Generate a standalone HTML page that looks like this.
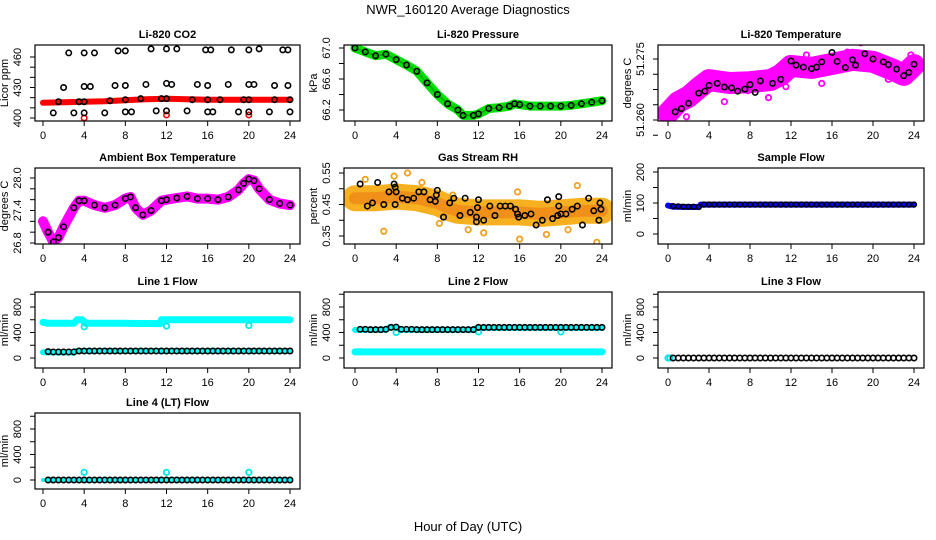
<!DOCTYPE html>
<html><head><meta charset="utf-8">
<style>
html,body{margin:0;padding:0;background:#fff;}
svg{display:block;font-family:"Liberation Sans",sans-serif;}
</style></head>
<body>
<svg id="fig" width="936" height="540" viewBox="0 0 936 540">
<text x="468" y="14" text-anchor="middle" font-size="13">NWR_160120  Average Diagnostics</text>
<text x="468" y="531" text-anchor="middle" font-size="13">Hour of Day (UTC)</text>
</svg>
<script>
// ---------- DATA ----------
const xTickLabels = [0,4,8,12,16,20,24];
const HALF = [0.5,1,1.5,2,2.5,3,3.5,4,4.5,5,5.5,6,6.5,7,7.5,8,8.5,9,9.5,10,10.5,11,11.5,12,12.5,13,13.5,14,14.5,15,15.5,16,16.5,17,17.5,18,18.5,19,19.5,20,20.5,21,21.5,22,22.5,23,23.5,24];

// Panel 1: CO2
const co2BandHours = [0,2,4,6,8,10,12,14,16,18,20,22,24];
const co2BandVals  = [415,415.5,416,416.5,417.5,418.5,419,418.5,418,418,418,418,418];
const co2RedOutHours = [4,12,20];
const co2RedOutVals  = [400,403,403];
const co2BlackHours = [2.5,4,5,7.3,8,10.5,12,13,15.8,16.3,18.3,20,21,23.3,23.8, 2,4,4.6,7,8,10,12,12.5,15,16,18,20,20.5,22.5,23.8, 1,3,4,6,8,8.6,11,12,14,16,16.5,19,20,22,24, 1.5,3.5,4,6.5,8,9.5,11.5,12,14.5,16,17.2,19.5,20,22.5,24];
const co2BlackVals  = [464,464,464,466,466,468,468,468,467,467,467,467,468,467,467, 430,431,431,432,432,433,434,433,433,432,433,433,433,432,432, 405,405,405,405,406,406,407,407,407,406,406,406,406,406,406, 416,416,416,417,418,419,419,419,418,418,418,418,418,418,418];

// Panel 2: Pressure
const presHours = [0,1,2,3,4,5,6,7,8,9,10,10.5,11.5,12,13,14,15,15.5,16,17,18,19,20,21,22,23,24];
const presVals  = [67.0,66.95,66.9,66.92,66.85,66.78,66.7,66.55,66.4,66.28,66.2,66.13,66.13,66.15,66.22,66.23,66.25,66.28,66.27,66.25,66.25,66.25,66.25,66.26,66.28,66.3,66.32];

// Panel 3: Li-820 Temperature
const ltHours = [0,1,2,3,4,6,8,10,11,12,14,16,18,20,22,23,24];
const ltVals  = [51.2617,51.2644,51.2657,51.2679,51.2698,51.2691,51.2693,51.2698,51.2711,51.2733,51.2728,51.2738,51.2748,51.2743,51.2723,51.2711,51.2735];
const ltOutHours = [0.3,1.8,3.5,5.5,7.8,9.8,11.5,13.5,15,17.5,18.8,21.5,23.7];
const ltOutVals  = [51.2585,51.2608,51.2700,51.2645,51.2672,51.2655,51.2682,51.2760,51.2690,51.2767,51.2790,51.2700,51.2760];
const ltBlackHours = [0.7,1.3,2,3,3.6,4,4.8,5.5,6.2,6.8,7.5,8,8.5,9,10.2,11,12,12.5,13.2,14,14.5,15,16,16.5,17.3,18,18.3,19.2,20,21,21.5,22.3,23,23.5,24];
const ltBlackVals  = [51.2620,51.2628,51.2641,51.2666,51.2671,51.2685,51.2690,51.2681,51.2679,51.2671,51.2676,51.2687,51.2668,51.2696,51.2690,51.2700,51.2745,51.2735,51.2730,51.2726,51.2730,51.2743,51.2766,51.2744,51.2729,51.2748,51.2735,51.2763,51.2750,51.2743,51.2736,51.2725,51.2709,51.2717,51.2737];

// Panel 4: Ambient Box Temperature
const abHours = [0,0.5,1,1.5,2,3,3.5,4,5,6,7,8,8.5,9,9.7,10.5,11.5,12,13,14,15,16,17,18,19,19.5,20,20.5,21,22,23,24];
const abVals  = [27.2,27.0,26.82,26.9,27.1,27.45,27.58,27.58,27.5,27.45,27.5,27.62,27.65,27.45,27.32,27.4,27.58,27.6,27.63,27.66,27.62,27.62,27.6,27.65,27.78,27.9,27.98,27.95,27.8,27.6,27.53,27.5];

// Panel 5: Gas Stream RH
const rhBandHours = [0,2,4,6,8,9,10,12,14,16,18,20,22,24];
const rhBandVals  = [0.47,0.47,0.475,0.47,0.455,0.44,0.43,0.425,0.425,0.425,0.42,0.425,0.43,0.43];
const rhOutHours = [2.8,5.1,12.5,16,23.5,15.8,21.6,9.5,6.5,1,3.8,18.6,11,8.2,20.7];
const rhOutVals  = [0.365,0.55,0.36,0.34,0.33,0.49,0.51,0.48,0.52,0.53,0.54,0.355,0.37,0.39,0.37];
const rhBlackHours = [0.5,1.2,1.7,2.2,2.8,3.3,3.8,3.9,4,3.9,4.6,5.1,5.7,6.2,6.7,7.3,7.8,7.9,8,8.6,9.2,9.6,10.2,10.7,11.2,11.8,11.9,12,11.8,12.5,13.1,13.6,14.1,14.6,15.1,15.6,15.8,15.9,16.5,17.1,17.6,18.2,18.7,19.2,19.7,19.8,19.8,20,20.5,21.1,21.6,22.1,22.7,23.2,23.7,23.8,23.9];
const rhBlackVals  = [0.515,0.445,0.455,0.52,0.45,0.49,0.515,0.505,0.49,0.45,0.47,0.465,0.47,0.49,0.49,0.465,0.46,0.48,0.495,0.41,0.455,0.47,0.415,0.47,0.425,0.41,0.44,0.465,0.395,0.40,0.445,0.415,0.445,0.445,0.445,0.435,0.42,0.41,0.415,0.42,0.385,0.40,0.465,0.405,0.415,0.445,0.475,0.42,0.42,0.435,0.445,0.385,0.47,0.43,0.40,0.455,0.435];

// Panel 6: Sample Flow
const sfHours = [0,0.5,1,2,3,3.2,4,8,12,16,20,24];
const sfVals  = [92,88,88,87,87,95,95,95,95,95,95,95];
const sfBlack = [90,89,88,88,88,87,95,95,95,95,95,95,95,95,95,95,95,95,95,95,95,95,95,95,95,95,95,95,95,95,95,95,95,95,95,95,95,95,95,95,95,95,95,95,95,95,95,95];

// Panel 7: Line 1 Flow
const l1HiHours = [0,0.5,3,3.3,3.8,4.1,8,11.4,11.5,16,20,24];
const l1HiVals  = [560,545,545,600,600,545,545,540,600,600,600,600];
const l1LoHours = [0,3,3.1,8,12,16,20,24];
const l1LoVals  = [90,85,110,110,110,110,110,110];
const l1OutHours = [4,12,20];
const l1OutVals  = [490,500,510];
const l1Black = [100,95,95,95,95,95,110,110,110,110,110,110,110,110,110,110,110,110,110,110,110,110,110,110,110,110,110,110,110,110,110,110,110,110,110,110,110,110,110,110,110,110,110,110,110,110,110,110];

// Panel 8: Line 2 Flow
const l2HiHours = [0,3,3.3,4,4.5,8,11.5,11.8,16,20,24];
const l2HiVals  = [440,440,480,480,440,440,440,470,470,470,470];
const l2LoHours = [0,8,16,24];
const l2LoVals  = [95,95,95,95];
const l2OutHours = [4,12,20];
const l2OutVals  = [400,410,410];
const l2Black = [450,450,445,445,445,450,480,485,450,450,450,445,445,445,445,445,445,445,445,445,445,445,445,480,480,480,480,480,480,480,480,480,480,480,480,480,480,480,480,480,480,480,480,480,480,480,480,480];

// Panels 9/10: Line 3, Line 4 Flow
const l3Vals = [0,0,0,0,0,0,0,0,0,0,0,0,0,0,0,0,0,0,0,0,0,0,0,0,0,0,0,0,0,0,0,0,0,0,0,0,0,0,0,0,0,0,0,0,0,0,0,0];
const l4OutHours = [4,12,20];
const l4OutVals  = [120,120,120];

// ---------- LAYOUT ----------
const SVGNS = "http://www.w3.org/2000/svg";
const fig = document.getElementById('fig');
const COLS = [{L:35,R:300,x0:43,x24:290},{L:344,R:612,x0:355,x24:602},{L:658,R:924,x0:668,x24:914}];
const ROWS = [{T:45,B:121},{T:168,B:244},{T:292,B:368},{T:413,B:489}];

function el(tag, attrs, parent){
  const e = document.createElementNS(SVGNS, tag);
  for (const k in attrs) e.setAttribute(k, attrs[k]);
  (parent||fig).appendChild(e);
  return e;
}

function makePanel(col,row,title,ylab,v1,p1,v2,p2,ticks,labels,name){
  const c = COLS[col], r = ROWS[row];
  const g = el('g',{});
  
  
  const xs = h => c.x0 + (c.x24 - c.x0) * h / 24;
  const ys = v => r.T + p1 + (p2 - p1) * (v - v1) / (v2 - v1);
  const clipId = 'clip-' + name;
  const cp = el('clipPath',{id:clipId}, g);
  el('rect',{x:c.L,y:r.T,width:c.R-c.L,height:r.B-r.T}, cp);
  const plot = el('g',{'clip-path':'url(#'+clipId+')'}, g);
  
  
  const t = el('text',{x:(c.L+c.R)/2,y:r.T-7,'text-anchor':'middle','font-size':11,'font-weight':'bold'}, g);
  t.textContent = title;
  
  
  xTickLabels.forEach(h=>{
    el('line',{x1:xs(h),x2:xs(h),y1:r.B,y2:r.B+5,stroke:'#000','stroke-width':1}, g);
    const tl = el('text',{x:xs(h),y:r.B+18,'text-anchor':'middle','font-size':11}, g);
    tl.textContent = h;
    
    
  });
  ticks.forEach(v=>{
    const y = ys(v);
    el('line',{x1:c.L-5,x2:c.L,y1:y,y2:y,stroke:'#000','stroke-width':1}, g);
  });
  labels.forEach(lb=>{
    const y = ys(lb[0]);
    const tl = el('text',{x:c.L-14,y:y,'text-anchor':'middle','font-size':11,transform:'rotate(-90 '+(c.L-14)+' '+y+')'}, g);
    tl.textContent = lb[1];
    
    
  });
  const yl = el('text',{x:c.L-27,y:(r.T+r.B)/2,'text-anchor':'middle','font-size':11,transform:'rotate(-90 '+(c.L-27)+' '+((r.T+r.B)/2)+')'}, g);
  yl.textContent = ylab;
  
  
  const box = el('rect',{x:c.L,y:r.T,width:c.R-c.L,height:r.B-r.T,fill:'none',stroke:'#000','stroke-width':1.2}, g);
  
  
  return {plot, xs, ys};
}

function band(P, hours, vals, color, width, name){
  const d = hours.map((h,i)=>(i?'L':'M')+P.xs(h).toFixed(1)+','+P.ys(vals[i]).toFixed(1)).join(' ');
  const p = el('path',{d:d,fill:'none',stroke:color,'stroke-width':width,'stroke-linejoin':'round','stroke-linecap':'round'}, P.plot);
  
  
}
function pts(P, hours, vals, color, rad, sw, name){
  hours.forEach((h,i)=>{
    const c = el('circle',{cx:P.xs(h),cy:P.ys(vals[i]),r:rad,fill:'none',stroke:color,'stroke-width':sw}, P.plot);
    
    
  });
}

let P = makePanel(0,0,'Li-820 CO2','Licor ppm',400,73,460,12,[400,410,420,430,440,450,460],[[400,'400'],[430,'430'],[460,'460']],'co2-panel');
band(P, co2BandHours, co2BandVals, '#ff0000', 6, 'co2-red-series');
pts(P, co2RedOutHours, co2RedOutVals, '#ff0000', 2.7, 1.6, 'co2-red-point');
pts(P, co2BlackHours, co2BlackVals, '#000', 2.7, 1.6, 'co2-black-point');

P = makePanel(1,0,'Li-820 Pressure','kPa',67.0,3,66.2,65,[66.2,66.4,66.6,66.8,67.0],[[66.2,'66.2'],[66.6,'66.6'],[67.0,'67.0']],'pressure-panel');
band(P, presHours, presVals, '#00e000', 9, 'pressure-green-series');
band(P, presHours, presVals, '#00b000', 2, 'pressure-green-core');
pts(P, presHours, presVals, '#000', 2.7, 1.6, 'pressure-black-point');

P = makePanel(2,0,'Li-820 Temperature','degrees C',51.260,75,51.275,14,[51.25625,51.26,51.26375,51.2675,51.27125,51.275],[[51.260,'51.260'],[51.275,'51.275']],'li820-temp-panel');
band(P, ltHours, ltVals, '#ff00ff', 22, 'li820-temp-magenta-series');
pts(P, ltOutHours, ltOutVals, '#ff00ff', 2.7, 1.8, 'li820-temp-magenta-point');
pts(P, ltBlackHours, ltBlackVals, '#000', 2.7, 1.6, 'li820-temp-black-point');

P = makePanel(0,1,'Ambient Box Temperature','degrees C',28.0,10,26.8,75,[26.8,27.0,27.2,27.4,27.6,27.8,28.0],[[26.8,'26.8'],[27.4,'27.4'],[28.0,'28.0']],'ambient-temp-panel');
band(P, abHours, abVals, '#ff00ff', 10, 'ambient-magenta-series');
pts(P, abHours.slice(1), abVals.slice(1), '#000', 2.7, 1.6, 'ambient-black-point');

P = makePanel(1,1,'Gas Stream RH','percent',0.55,5,0.35,68,[0.35,0.40,0.45,0.50,0.55],[[0.35,'0.35'],[0.45,'0.45'],[0.55,'0.55']],'rh-panel');
band(P, rhBandHours, rhBandVals, '#f7b020', 26, 'rh-orange-series');
band(P, rhBandHours, rhBandVals, '#f09018', 12, 'rh-orange-core');
pts(P, rhOutHours, rhOutVals, '#f0a020', 2.7, 1.8, 'rh-orange-point');
pts(P, rhBlackHours, rhBlackVals, '#000', 2.7, 1.6, 'rh-black-point');

P = makePanel(2,1,'Sample Flow','ml/min',200,4,0,66,[0,50,100,150,200],[[0,'0'],[100,'100'],[200,'200']],'sample-flow-panel');
band(P, sfHours, sfVals, '#0000ff', 6, 'sample-flow-blue-series');
pts(P, HALF, sfBlack, '#000', 2.4, 1.5, 'sample-flow-black-point');

const flowTicks = [0,200,400,600,800,1000];
const flowLabels = [[0,'0'],[400,'400'],[800,'800']];
P = makePanel(0,2,'Line 1 Flow','ml/min',0,66,800,15,flowTicks,flowLabels,'line1-flow-panel');
band(P, l1HiHours, l1HiVals, '#00ffff', 7, 'line1-cyan-high-series');
band(P, l1LoHours, l1LoVals, '#00ffff', 6, 'line1-cyan-low-series');
pts(P, l1OutHours, l1OutVals, '#00e8e8', 2.7, 1.8, 'line1-cyan-point');
pts(P, HALF, l1Black, '#000', 2.7, 1.6, 'line1-black-point');

P = makePanel(1,2,'Line 2 Flow','ml/min',0,66,800,15,flowTicks,flowLabels,'line2-flow-panel');
band(P, l2HiHours, l2HiVals, '#00ffff', 6, 'line2-cyan-high-series');
band(P, l2LoHours, l2LoVals, '#00ffff', 7, 'line2-cyan-low-series');
pts(P, l2OutHours, l2OutVals, '#00e8e8', 2.7, 1.8, 'line2-cyan-point');
pts(P, HALF, l2Black, '#000', 2.7, 1.6, 'line2-black-point');

P = makePanel(2,2,'Line 3 Flow','ml/min',0,66,800,15,flowTicks,flowLabels,'line3-flow-panel');
pts(P, [0,0.2], [0,0], '#00e8e8', 2.7, 1.8, 'line3-cyan-point');
pts(P, HALF, l3Vals, '#000', 2.7, 1.6, 'line3-black-point');

P = makePanel(0,3,'Line 4 (LT) Flow','ml/min',0,67,800,16,flowTicks,flowLabels,'line4-flow-panel');
band(P, [0,24], [0,0], '#00ffff', 4, 'line4-cyan-series');
pts(P, l4OutHours, l4OutVals, '#00e8e8', 2.7, 1.8, 'line4-cyan-point');
pts(P, HALF, l3Vals, '#000', 2.7, 1.6, 'line4-black-point');
</script>
</body></html>
